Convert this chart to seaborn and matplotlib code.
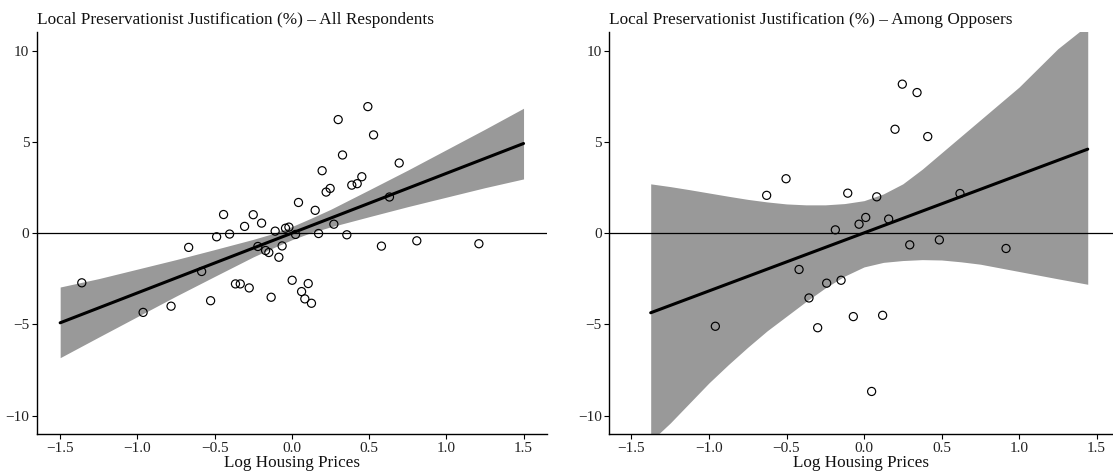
import numpy as np
import pandas as pd
import matplotlib
matplotlib.use("Agg")
import matplotlib.pyplot as plt
import seaborn as sns

# ---------------- data ----------------
left_x = [0.492, 0.300, 0.529, 0.328, 0.695, 0.196, 0.453, 0.388, 0.423, 0.248,
          0.222, 0.043, 0.632, 0.151, -0.442, -0.250, -0.196, -0.306, 0.272, -0.108,
          -0.041, -0.019, 0.024, 0.173, 0.356, -0.487, -0.403, 0.580, 0.809, -0.063,
          -0.220, -0.170, -0.149, -0.084, -0.584, 0.002, -0.365, -0.334, 0.106, -0.276,
          0.063, 0.084, -0.134, 0.127, -0.526, -1.360, -0.963, -0.782, -0.668, 1.211]
left_y = [6.93, 6.22, 5.38, 4.28, 3.84, 3.42, 3.09, 2.63, 2.71, 2.45,
          2.25, 1.68, 1.98, 1.25, 1.02, 1.01, 0.55, 0.37, 0.49, 0.11,
          0.27, 0.33, -0.07, -0.02, -0.09, -0.20, -0.05, -0.71, -0.42, -0.70,
          -0.73, -0.95, -1.06, -1.32, -2.10, -2.58, -2.78, -2.78, -2.76, -3.00,
          -3.20, -3.60, -3.51, -3.84, -3.70, -2.72, -4.34, -4.00, -0.78, -0.58]

right_x = [0.247, 0.342, 0.200, 0.411, -0.503, -0.628, -0.105, 0.082, 0.011, -0.032,
           0.159, -0.185, 0.295, 0.486, -0.419, -0.241, -0.148, -0.355, -0.959, -0.299,
           -0.069, 0.120, 0.049, 0.619, 0.916]
right_y = [8.16, 7.70, 5.69, 5.29, 2.98, 2.07, 2.19, 1.99, 0.86, 0.49,
           0.77, 0.18, -0.64, -0.37, -1.99, -2.74, -2.58, -3.55, -5.10, -5.18,
           -4.57, -4.50, -8.67, 2.17, -0.84]

# fitted lines (end points)
left_fit_x = [-1.5, 1.5]
left_fit_y = [-4.91, 4.91]
right_fit_x = [-1.376, 1.443]
right_fit_y = [-4.36, 4.60]

# confidence bands
left_band_x = [-1.5, -1.25, -1.0, -0.75, -0.5, -0.25, -0.125, 0.0, 0.125, 0.25, 0.5, 0.75, 1.0, 1.25, 1.5]
left_band_lo = [-6.82, -5.69, -4.57, -3.45, -2.37, -1.30, -0.82, -0.36, 0.03, 0.34, 0.90, 1.45, 1.97, 2.49, 2.97]
left_band_hi = [-2.95, -2.49, -1.97, -1.45, -0.90, -0.34, -0.03, 0.36, 0.82, 1.30, 2.37, 3.45, 4.57, 5.69, 6.84]

right_band_x = [-1.376, -1.25, -1.125, -1.0, -0.875, -0.75, -0.625, -0.5, -0.375, -0.25,
                -0.125, 0.0, 0.125, 0.25, 0.375, 0.5, 0.625, 0.75, 0.875, 1.0,
                1.125, 1.25, 1.443]
right_band_lo = [-11.4, -10.4, -9.3, -8.2, -7.2, -6.25, -5.35, -4.55, -3.75, -3.0,
                 -2.35, -1.85, -1.60, -1.50, -1.45, -1.47, -1.57, -1.70, -1.90, -2.10,
                 -2.30, -2.50, -2.80]
right_band_hi = [2.70, 2.55, 2.38, 2.20, 2.02, 1.85, 1.71, 1.60, 1.55, 1.55,
                 1.62, 1.78, 2.15, 2.70, 3.50, 4.40, 5.30, 6.20, 7.10, 8.00,
                 9.05, 10.1, 11.4]

titles = ["Local Preservationist Justification (%) \u2013 All Respondents",
          "Local Preservationist Justification (%) \u2013 Among Opposers"]
xlabel = "Log Housing Prices"
xticks = [-1.5, -1.0, -0.5, 0.0, 0.5, 1.0, 1.5]
yticks = [-10, -5, 0, 5, 10]

# ---------------- style ----------------
sns.set_theme(style="ticks")
plt.rcParams["font.family"] = ["Liberation Serif", "DejaVu Serif"]
plt.rcParams["axes.unicode_minus"] = True
plt.rcParams["xtick.direction"] = "out"
plt.rcParams["ytick.direction"] = "out"

W, H = 1113, 474
fig = plt.figure(figsize=(W / 100, H / 100), dpi=100)
bottom = 1 - 434 / H
height = (434 - 32.3) / H
ax1 = fig.add_axes([37 / W, bottom, (546.7 - 37) / W, height])
ax2 = fig.add_axes([609.3 / W, bottom, (W - 609.3) / W, height])

panels = [
    (ax1, left_x, left_y, left_fit_x, left_fit_y, left_band_x, left_band_lo, left_band_hi, (-1.65, 1.65), titles[0]),
    (ax2, right_x, right_y, right_fit_x, right_fit_y, right_band_x, right_band_lo, right_band_hi, (-1.643, 1.606), titles[1]),
]

for ax, px, py, fx, fy, bx, blo, bhi, xlim, title in panels:
    ax.fill_between(bx, blo, bhi, color="#999999", linewidth=0, zorder=1)
    sns.lineplot(x=fx, y=fy, ax=ax, color="black", linewidth=2.2, zorder=3)
    ax.axhline(0, color="black", linewidth=0.9, zorder=2)
    sns.scatterplot(x=px, y=py, ax=ax, facecolor="none", edgecolor="black",
                    s=34, linewidth=0.85, zorder=4)
    ax.set_xlim(*xlim)
    ax.set_ylim(-11, 11)
    ax.set_xticks(xticks)
    ax.set_xticklabels([f"{t:.1f}".replace("-", "\u2212") for t in xticks])
    ax.set_yticks(yticks)
    ax.set_yticklabels([f"{t}".replace("-", "\u2212") for t in yticks])
    ax.tick_params(axis="both", labelsize=11, length=3.5, width=0.8, pad=2,
                   colors="black", labelcolor="#222222")
    for s in ["top", "right"]:
        ax.spines[s].set_visible(False)
    for s in ["left", "bottom"]:
        ax.spines[s].set_linewidth(1.0)
        ax.spines[s].set_color("black")
    ax.set_xlabel(xlabel, fontsize=12.3, labelpad=0, color="#111111")
    ax.set_ylabel("")
    ax.set_title(title, loc="left", fontsize=12.4, pad=6, color="#111111")
    ax.set_facecolor("white")

fig.savefig("out.png", dpi=100, facecolor="white")
